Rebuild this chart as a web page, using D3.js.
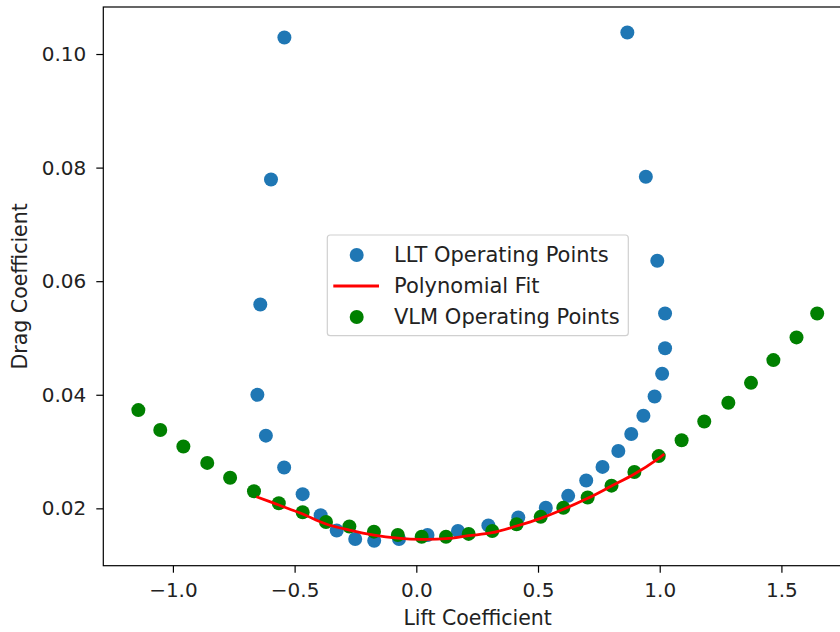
<!DOCTYPE html>
<html>
<head>
<meta charset="utf-8">
<script src="https://cdn.jsdelivr.net/npm/d3@7"></script>
<style>
  html, body { margin: 0; padding: 0; background: #fff; }
  svg { display: block; font-family: "DejaVu Sans", sans-serif; }
</style>
</head>
<body>
<svg id="chart" width="840" height="632"></svg>
<script>
// ---- Data ----
const lltCL = [-0.542, -0.597, -0.641, -0.653, -0.618, -0.543, -0.467, -0.393, -0.327, -0.251,
               -0.173, -0.071, 0.046, 0.171, 0.296, 0.419, 0.532, 0.624, 0.698, 0.765,
               0.830, 0.883, 0.933, 0.979, 1.010, 1.022, 1.022, 0.990, 0.943, 0.867];
const lltCD = [0.1029, 0.0779, 0.0559, 0.0400, 0.0328, 0.0272, 0.0225, 0.0188, 0.0161, 0.0146,
               0.0143, 0.0146, 0.0153, 0.0160, 0.0170, 0.0184, 0.0201, 0.0222, 0.0249, 0.0273,
               0.0301, 0.0331, 0.0363, 0.0397, 0.0437, 0.0482, 0.0543, 0.0636, 0.0784, 0.1038];

const vlmCL = [-1.142, -1.052, -0.957, -0.859, -0.765, -0.667, -0.565, -0.467, -0.371, -0.275,
               -0.174, -0.076, 0.022, 0.122, 0.215, 0.312, 0.412, 0.511, 0.604, 0.704,
               0.802, 0.896, 0.996, 1.090, 1.183, 1.282, 1.375, 1.467, 1.562, 1.647];
const vlmCD = [0.0373, 0.0338, 0.0309, 0.0280, 0.0254, 0.0230, 0.0209, 0.0193, 0.0176, 0.0168,
               0.0159, 0.0153, 0.0150, 0.0150, 0.0155, 0.0160, 0.0172, 0.0185, 0.0201, 0.0219,
               0.0240, 0.0264, 0.0292, 0.0320, 0.0353, 0.0386, 0.0421, 0.0461, 0.0501, 0.0543];

const fitCL = [-0.657, -0.565, -0.467, -0.371, -0.275, -0.174, -0.076, 0.022, 0.122, 0.215,
               0.312, 0.412, 0.511, 0.604, 0.704, 0.802, 0.896, 0.996, 1.019];
const fitCD = [0.02205, 0.02058, 0.01900, 0.01724, 0.01618, 0.01530, 0.01477, 0.01454, 0.01465, 0.01518,
               0.01571, 0.01689, 0.01824, 0.01983, 0.02176, 0.02393, 0.02604, 0.02881, 0.02957];

const xTicks = [-1.0, -0.5, 0.0, 0.5, 1.0, 1.5];
const yTicks = [0.02, 0.04, 0.06, 0.08, 0.10];

const seriesNames = ["LLT Operating Points", "Polynomial Fit", "VLM Operating Points"];
const colors = { llt: "#1f77b4", fit: "#ff0000", vlm: "#008000" };

// ---- Layout ----
const axL = 103.3, axR = 852, axT = 7, axB = 565.7;
const svg = d3.select("#chart");

const x = d3.scaleLinear().domain([-1.286, 1.790]).range([axL, axR]);
const y = d3.scaleLinear().domain([0.0099, 0.10828]).range([axB, axT]);

const fmtMinus = d => d3.format(".1f")(d).replace("-", "\u2212");

const lltData = lltCL.map((c, i) => ({ cl: c, cd: lltCD[i] }));
const vlmData = vlmCL.map((c, i) => ({ cl: c, cd: vlmCD[i] }));
const fitData = fitCL.map((c, i) => ({ cl: c, cd: fitCD[i] }));

const R = 7;
svg.append("g").selectAll("circle").data(lltData).join("circle")
  .attr("cx", d => x(d.cl)).attr("cy", d => y(d.cd)).attr("r", R)
  .attr("fill", colors.llt);

svg.append("g").selectAll("circle").data(vlmData).join("circle")
  .attr("cx", d => x(d.cl)).attr("cy", d => y(d.cd)).attr("r", R)
  .attr("fill", colors.vlm);

svg.append("path").datum(fitData)
  .attr("fill", "none").attr("stroke", colors.fit).attr("stroke-width", 2.8)
  .attr("stroke-linejoin", "round").attr("stroke-linecap", "butt")
  .attr("d", d3.line().x(d => x(d.cl)).y(d => y(d.cd)).curve(d3.curveCatmullRom));

// axes
const xAxis = d3.axisBottom(x).tickValues(xTicks).tickFormat(fmtMinus).tickSize(7).tickPadding(10).tickSizeOuter(0);
const yAxis = d3.axisLeft(y).tickValues(yTicks).tickFormat(d3.format(".2f")).tickSize(7).tickPadding(10).tickSizeOuter(0);

const gx = svg.append("g").attr("transform", `translate(0,${axB})`).call(xAxis);
const gy = svg.append("g").attr("transform", `translate(${axL},0)`).call(yAxis);
[gx, gy].forEach(g => {
  g.select(".domain").remove();
  g.selectAll(".tick line").attr("stroke", "#000").attr("stroke-width", 1.2);
  g.selectAll(".tick text").attr("fill", "#222").style("font-size", "20px")
    .style("font-family", "'DejaVu Sans', sans-serif");
});

// frame
svg.append("rect").attr("x", axL).attr("y", axT)
  .attr("width", axR - axL).attr("height", axB - axT)
  .attr("fill", "none").attr("stroke", "#000").attr("stroke-width", 1.2);

// axis labels
svg.append("text").attr("x", (axL + axR) / 2).attr("y", 625)
  .attr("text-anchor", "middle").style("font-size", "20.5px").attr("fill", "#222")
  .text("Lift Coefficient");
svg.append("text").attr("transform", `translate(27,${(axT + axB) / 2}) rotate(-90)`)
  .attr("text-anchor", "middle").style("font-size", "20.5px").attr("fill", "#222")
  .text("Drag Coefficient");

// legend
const lg = svg.append("g");
lg.append("rect").attr("x", 327.3).attr("y", 235).attr("width", 301).attr("height", 100.7)
  .attr("rx", 3).attr("fill", "#fff").attr("fill-opacity", 0.85)
  .attr("stroke", "#d0d0d0").attr("stroke-width", 1.2);
const rowsY = [255, 286, 317];
lg.append("circle").attr("cx", 356.7).attr("cy", rowsY[0]).attr("r", R).attr("fill", colors.llt);
lg.append("line").attr("x1", 333.3).attr("x2", 379).attr("y1", rowsY[1]).attr("y2", rowsY[1])
  .attr("stroke", colors.fit).attr("stroke-width", 2.8);
lg.append("circle").attr("cx", 356.7).attr("cy", rowsY[2]).attr("r", R).attr("fill", colors.vlm);
seriesNames.forEach((n, i) => {
  lg.append("text").attr("x", 394).attr("y", rowsY[i]).attr("dy", "0.35em")
    .style("font-size", "21px").attr("fill", "#222").text(n);
});
</script>
</body>
</html>
